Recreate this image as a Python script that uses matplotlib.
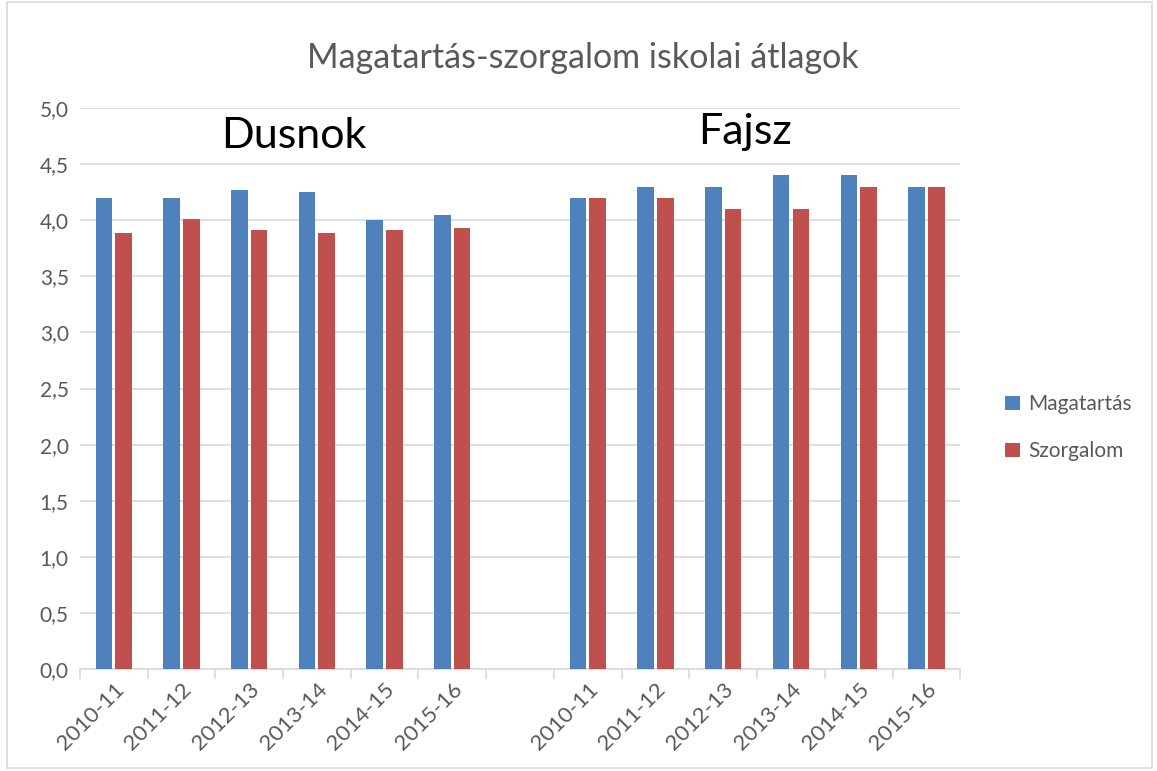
import matplotlib.pyplot as plt
import numpy as np
from matplotlib.patches import Rectangle

plt.rcParams['font.family'] = ['Lato', 'DejaVu Sans']

evek = ["2010-11", "2011-12", "2012-13", "2013-14", "2014-15", "2015-16"]
dusnok_magatartas = [4.20, 4.20, 4.27, 4.25, 4.00, 4.05]
dusnok_szorgalom = [3.89, 4.01, 3.91, 3.89, 3.91, 3.93]
fajsz_magatartas = [4.20, 4.30, 4.30, 4.40, 4.40, 4.30]
fajsz_szorgalom = [4.20, 4.20, 4.10, 4.10, 4.30, 4.30]
telepulesek = ["Dusnok", "Fajsz"]

kek = '#4f81bd'
piros = '#c0504d'
szurke = '#595959'

fig = plt.figure(figsize=(11.57, 7.71), dpi=100)
ax = fig.add_axes([0.069, 0.132, 0.761, 0.728])

x_d = np.arange(len(evek))
x_f = np.arange(len(evek)) + len(evek) + 1
w = 0.245
ax.bar(x_d - 0.145, dusnok_magatartas, w, color=kek, label='Magatartás', zorder=3)
ax.bar(x_d + 0.145, dusnok_szorgalom, w, color=piros, label='Szorgalom', zorder=3)
ax.bar(x_f - 0.145, fajsz_magatartas, w, color=kek, zorder=3)
ax.bar(x_f + 0.145, fajsz_szorgalom, w, color=piros, zorder=3)

n = 2 * len(evek) + 1
ax.set_xlim(-0.5, n - 0.5)
ax.set_ylim(0, 5)
ax.set_yticks(np.arange(0, 5.01, 0.5))
ax.set_yticklabels([f"{v:.1f}".replace('.', ',') for v in np.arange(0, 5.01, 0.5)],
                   fontsize=15, color=szurke)
ax.yaxis.grid(True, color='#d9d9d9', linewidth=1.2, zorder=0)
ax.tick_params(axis='y', length=0, pad=8)

# kategoria cimkek, a hatarokon kis osztasjelekkel
ax.set_xticks(np.arange(n))
ax.set_xticklabels(evek + [''] + evek, rotation=45, ha='right', va='top',
                   rotation_mode='anchor', fontsize=16, color=szurke)
ax.tick_params(axis='x', length=0, pad=7)
ax.set_xticks(np.arange(n + 1) - 0.5, minor=True)
ax.tick_params(axis='x', which='minor', length=7, color='#d9d9d9', width=1.2)

for s in ['left', 'right', 'top']:
    ax.spines[s].set_visible(False)
ax.spines['bottom'].set_color('#d9d9d9')
ax.spines['bottom'].set_linewidth(1.2)

ax.text(2.66, 4.75, telepulesek[0], fontsize=31, ha='center', va='center', color='black')
ax.text(9.32, 4.79, telepulesek[1], fontsize=31, ha='center', va='center', color='black')

fig.suptitle('Magatartás-szorgalom iskolai átlagok', x=0.504, y=0.945,
             fontsize=24.5, color=szurke)

ax.legend(loc='center left', bbox_to_anchor=(1.03, 0.43), frameon=False,
          fontsize=15, labelcolor=szurke, handlelength=0.7, handleheight=0.7,
          labelspacing=1.3, handletextpad=0.4)

fig.patches.append(Rectangle((0.006, 0.004), 0.99, 0.994, transform=fig.transFigure,
                             fill=False, edgecolor='#d9d9d9', linewidth=1.2))

fig.savefig('out.png', dpi=100)
